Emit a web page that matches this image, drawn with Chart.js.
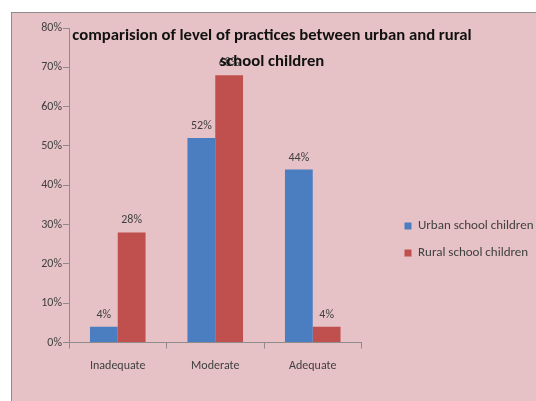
<!DOCTYPE html>
<html>
<head>
<meta charset="utf-8">
<script src="https://cdn.jsdelivr.net/npm/chart.js@4"></script>
<style>
  html, body { margin: 0; padding: 0; background: #fff; overflow: hidden; }
  #box {
    position: absolute; left: 11px; top: 12px; width: 540px; height: 400px;
    background: #e6c1c5; border: 1px solid #8c8c8c; box-sizing: border-box;
  }
  #wrap { position: absolute; left: 0; top: 0; width: 524px; height: 388px; }
</style>
</head>
<body>
<div id="box"><div id="wrap"><canvas id="chart"></canvas></div></div>
<script>
// Data
const categories = ['Inadequate', 'Moderate', 'Adequate'];
const urbanValues = [4, 52, 44];
const ruralValues = [28, 68, 4];
const seriesNames = ['Urban school children', 'Rural school children'];
const titleLines = ['comparision of level of practices between urban and rural', 'school children'];

const FONT = 'Carlito, Lato, sans-serif';
const TEXT = '#404040';

// Value labels above each bar
const barLabels = {
  id: 'barLabels',
  afterDatasetsDraw(chart) {
    const ctx = chart.ctx;
    ctx.save();
    ctx.font = '12px ' + FONT;
    ctx.fillStyle = TEXT;
    ctx.textAlign = 'center';
    ctx.textBaseline = 'bottom';
    chart.data.datasets.forEach((ds, i) => {
      chart.getDatasetMeta(i).data.forEach((bar, j) => {
        ctx.fillText(ds.data[j] + '%', bar.x, bar.y - 6);
      });
    });
    ctx.restore();
  }
};

// Title sits inside the plot area like the original
const overlayTitle = {
  id: 'overlayTitle',
  afterDraw(chart) {
    const ctx = chart.ctx;
    const area = chart.chartArea;
    ctx.save();
    ctx.font = 'bold 16.7px ' + FONT;
    ctx.fillStyle = '#111';
    ctx.textAlign = 'center';
    ctx.textBaseline = 'middle';
    const cx = area.left + 203;
    titleLines.forEach((line, i) => ctx.fillText(line, cx, area.top + 8 + i * 26));
    ctx.restore();
  }
};

// Move the legend further from the plot, a bit lower, and let it run to the edge
const nudgeLegend = {
  id: 'nudgeLegend',
  afterLayout(chart) {
    const lg = chart.legend;
    lg.left += 29; lg.right = chart.width + 40;
    lg.top += 34; lg.bottom += 34;
  }
};

new Chart(document.getElementById('chart'), {
  type: 'bar',
  data: {
    labels: categories,
    datasets: [
      { label: seriesNames[0], data: urbanValues, backgroundColor: '#4a7ec0' },
      { label: seriesNames[1], data: ruralValues, backgroundColor: '#c0504d' }
    ]
  },
  options: {
    responsive: true,
    maintainAspectRatio: false,
    animation: false,
    layout: { padding: { top: 15, right: 58, bottom: 18, left: 0 } },
    datasets: { bar: { categoryPercentage: 0.57, barPercentage: 1 } },
    scales: {
      x: {
        grid: { drawOnChartArea: false, tickLength: 6, color: '#8c8c8c' },
        border: { color: '#8c8c8c' },
        ticks: { font: { family: FONT, size: 12 }, color: TEXT, padding: 10 }
      },
      y: {
        min: 0, max: 80,
        grid: { drawOnChartArea: false, tickLength: 6, color: '#8c8c8c' },
        border: { color: '#8c8c8c' },
        ticks: { stepSize: 10, font: { family: FONT, size: 12 }, color: TEXT, padding: 1,
                 callback: v => v + '%' },
        afterFit: s => { s.width = 57; }
      }
    },
    plugins: {
      legend: {
        position: 'right',
        labels: { boxWidth: 7, boxHeight: 7, padding: 14, font: { family: FONT, size: 13 }, color: TEXT }
      },
      title: { display: false },
      tooltip: { enabled: false }
    }
  },
  plugins: [barLabels, overlayTitle, nudgeLegend]
});
</script>
</body>
</html>
